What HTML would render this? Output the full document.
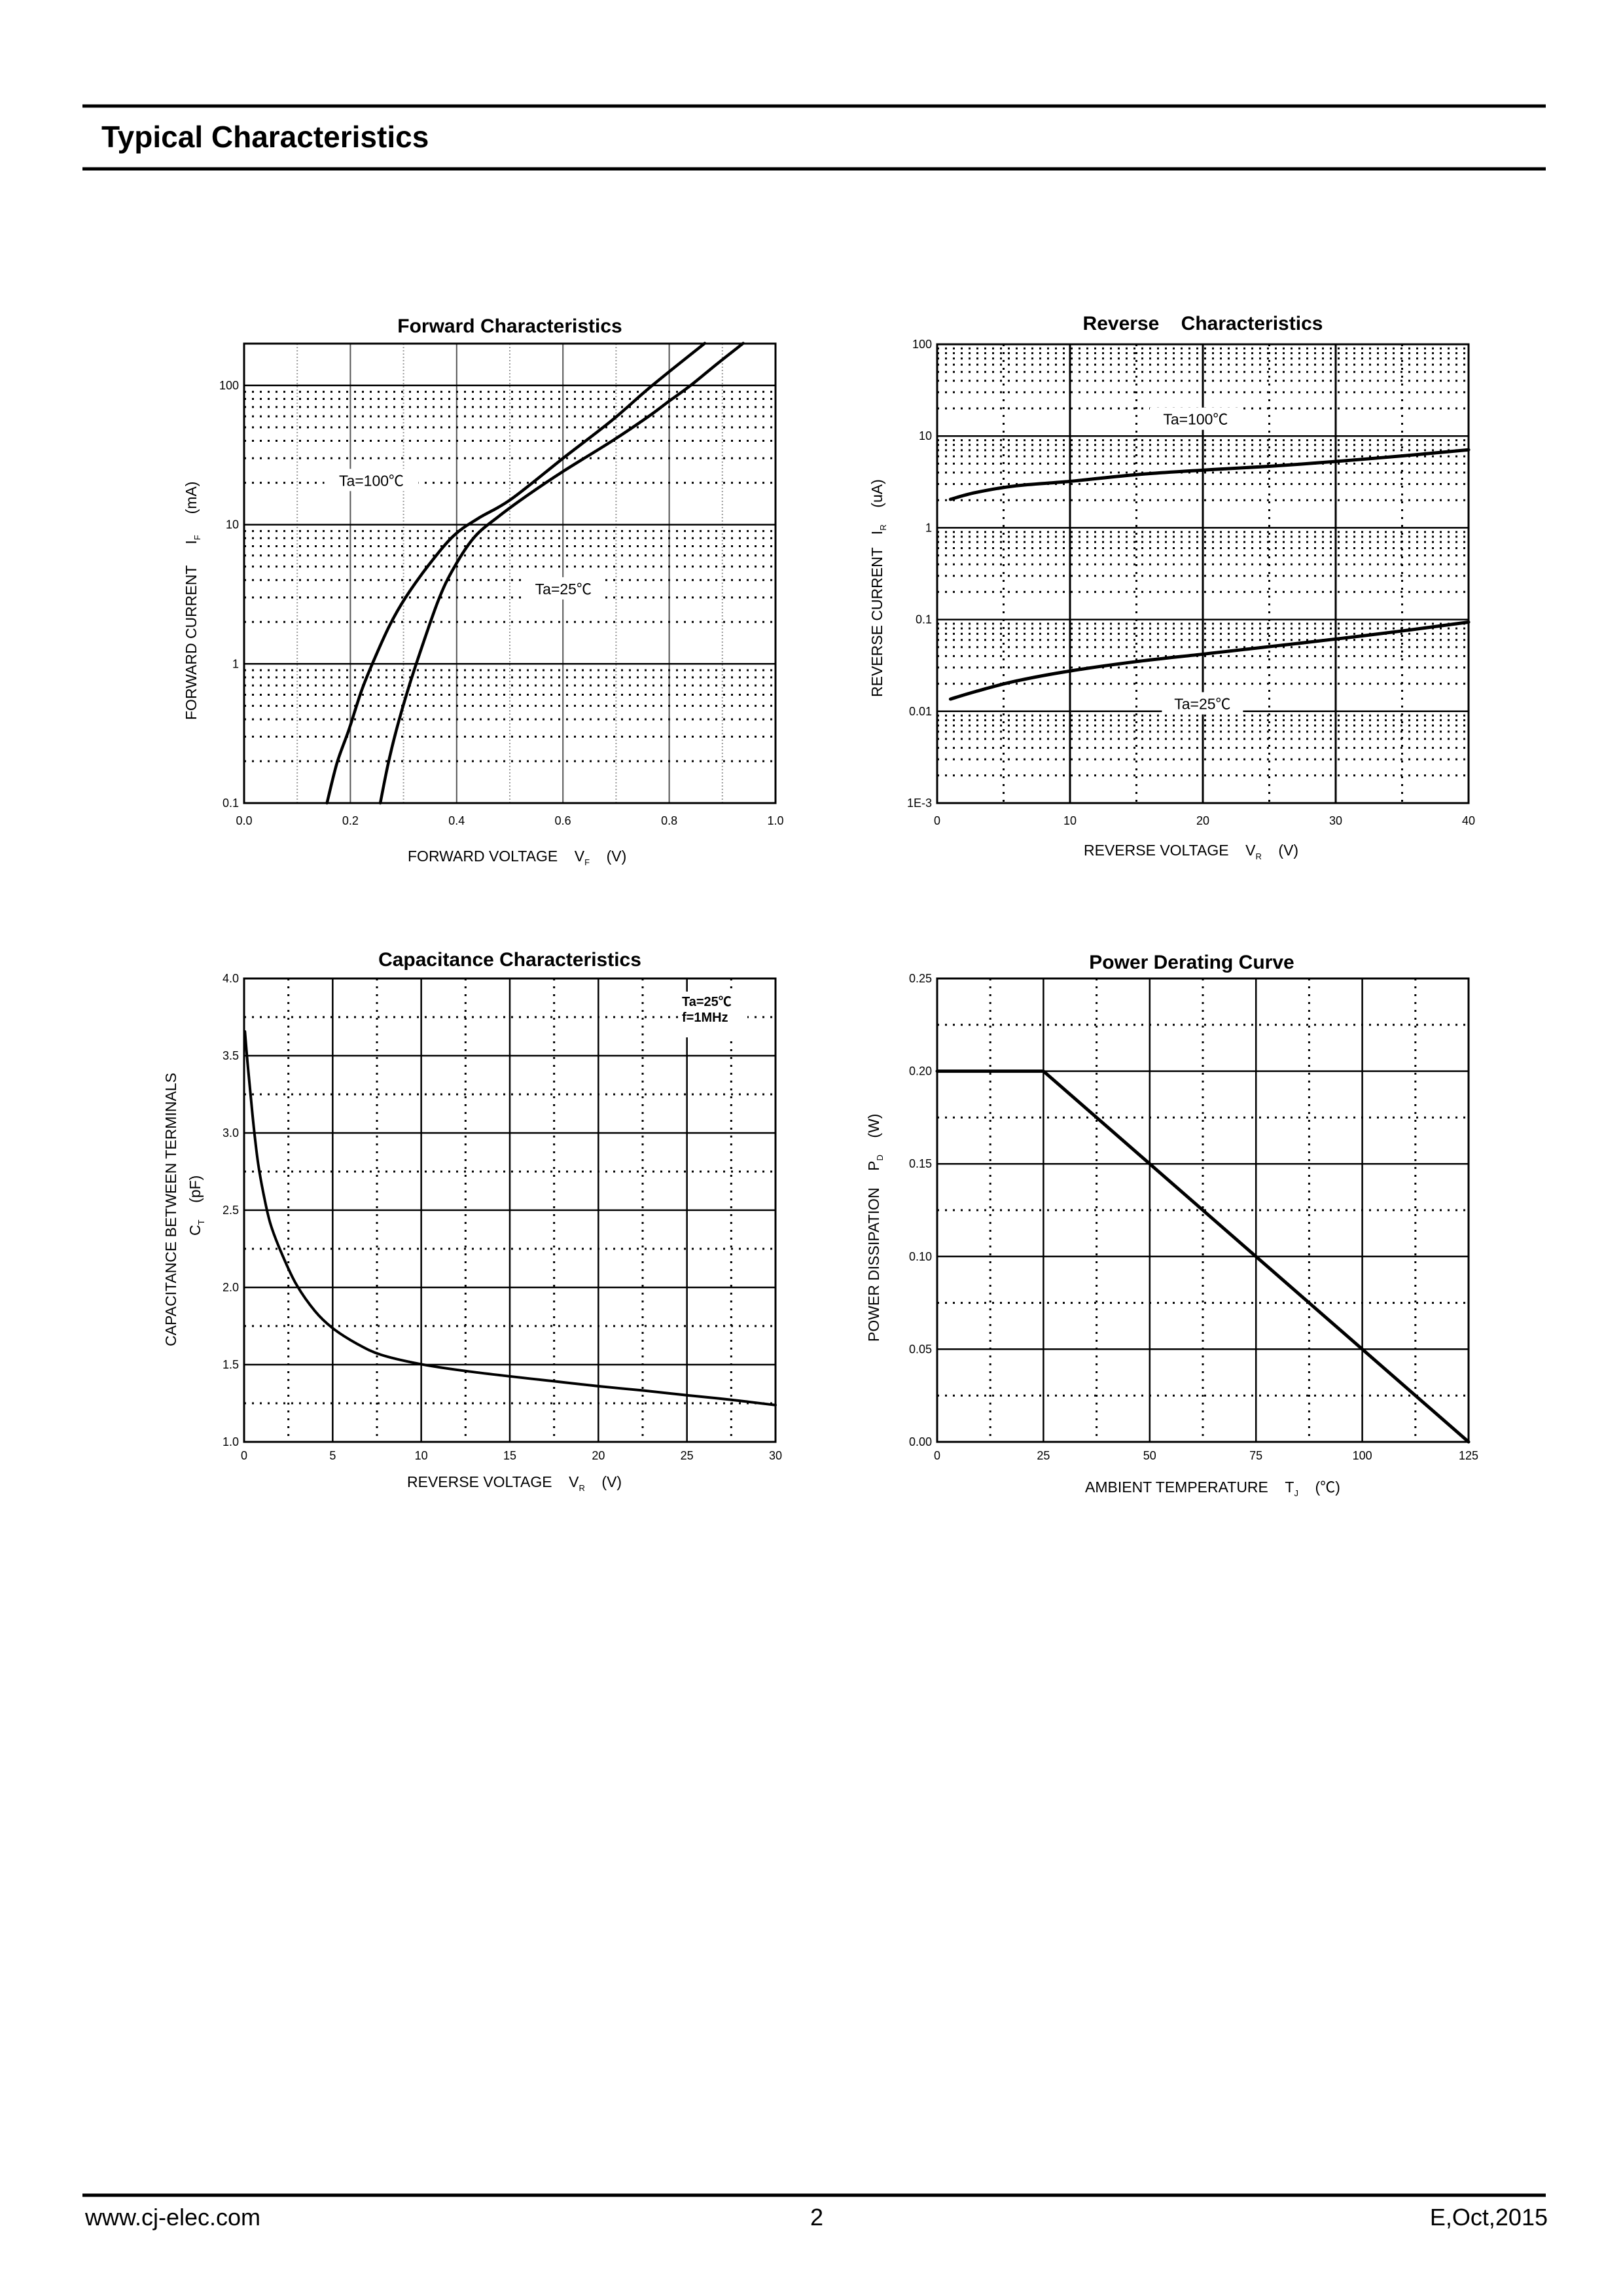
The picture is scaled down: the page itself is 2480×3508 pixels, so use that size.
<!DOCTYPE html>
<html><head><meta charset="utf-8">
<style>
html,body{margin:0;padding:0;background:#fff;}
svg{display:block;}
text{font-family:"Liberation Sans","Noto Sans CJK SC",sans-serif;fill:#000;}
</style></head>
<body>
<svg id="s" xmlns="http://www.w3.org/2000/svg" width="2480" height="3508" viewBox="0 0 2480 3508">
<rect width="2480" height="3508" fill="#fff"/>
<line x1="126" y1="162" x2="2362" y2="162" stroke="#000" stroke-width="5"/>
<line x1="126" y1="258" x2="2362" y2="258" stroke="#000" stroke-width="5"/>
<text x="155" y="225" font-size="46" font-weight="bold">Typical Characteristics</text>
<line x1="126" y1="3354" x2="2362" y2="3354" stroke="#000" stroke-width="5"/>
<text x="130" y="3400" font-size="36">www.cj-elec.com</text>
<text x="1248" y="3400" font-size="36" text-anchor="middle">2</text>
<text x="2365" y="3400" font-size="36" text-anchor="end">E,Oct,2015</text>
<g id="g"></g>
</svg>
<script>
var out=[];
function L(x1,y1,x2,y2,a){out.push('<line x1="'+x1+'" y1="'+y1+'" x2="'+x2+'" y2="'+y2+'" '+a+'/>');}
function T(x,y,s,a){out.push('<text x="'+x+'" y="'+y+'" '+(a||'')+'>'+s+'</text>');}
var SOL='stroke="#000" stroke-width="2.5"', DOT='stroke="#000" stroke-width="3" stroke-dasharray="3 9"', LDOT='stroke="#999" stroke-width="2" stroke-dasharray="2 3"';
function path(pts,w){var d='M'+pts.map(function(p){return p[0].toFixed(1)+','+p[1].toFixed(1)}).join(' L');out.push('<path d="'+d+'" fill="none" stroke="#000" stroke-width="'+w+'" stroke-linejoin="round" stroke-linecap="round"/>');}
function smooth(pts,w){
 var d='M'+pts[0][0]+','+pts[0][1];
 for(var i=0;i<pts.length-1;i++){var p0=pts[i-1]||pts[i],p1=pts[i],p2=pts[i+1],p3=pts[i+2]||p2;
  var c1=[p1[0]+(p2[0]-p0[0])/6,p1[1]+(p2[1]-p0[1])/6],c2=[p2[0]-(p3[0]-p1[0])/6,p2[1]-(p3[1]-p1[1])/6];
  d+=' C'+c1[0].toFixed(1)+','+c1[1].toFixed(1)+' '+c2[0].toFixed(1)+','+c2[1].toFixed(1)+' '+p2[0].toFixed(1)+','+p2[1].toFixed(1);}
 out.push('<path d="'+d+'" fill="none" stroke="#000" stroke-width="'+w+'" stroke-linecap="round"/>');}
var TK='font-size="18"', AX='font-size="23"';

/* ---------- Forward ---------- */
(function(){
 var x0=373,x1=1185,yb=1227,dec=212.7,yt=525;
 T(779,508,'Forward Characteristics','font-size="30" font-weight="bold" text-anchor="middle"');
 for(var i=1;i<10;i++){var x=x0+i*(x1-x0)/10; L(x,yt,x,yb,(i%2==0)?'stroke="#555" stroke-width="2"':LDOT);}
 for(var d=0;d<3;d++){var base=yb-d*dec;
  for(var k=2;k<10;k++){var y=base-Math.log10(k)*dec;L(x0,y,x1,y,DOT);}
  if(d>0)L(x0,base,x1,base,SOL);}
 L(x0,yb-3*dec,x1,yb-3*dec,SOL);
 out.push('<rect x="'+x0+'" y="'+yt+'" width="'+(x1-x0)+'" height="'+(yb-yt)+'" fill="none" stroke="#000" stroke-width="3"/>');
 var labs=['0.1','1','10','100'];
 for(var d=0;d<4;d++)T(x0-8,yb-d*dec+6,labs[d],TK+' text-anchor="end"');
 for(var i=0;i<=5;i++)T(x0+i*(x1-x0)/5,1260,(i*0.2).toFixed(1),TK+' text-anchor="middle"');
 T(623,1316,'FORWARD VOLTAGE&#160;&#160;&#160;&#160;V<tspan font-size="13" dy="6">F</tspan><tspan dy="-6">&#160;&#160;&#160;&#160;(V)</tspan>',AX);
 T(0,0,'FORWARD CURRENT&#160;&#160;&#160;&#160;&#160;I<tspan font-size="13" dy="6">F</tspan><tspan dy="-6">&#160;&#160;&#160;&#160;&#160;(mA)</tspan>',AX+' transform="translate(300,1100) rotate(-90)"');
 function m(p){return [x0+(p[0]-200)/1315*(x1-x0), yb-(1337-p[1])/370*dec];}
 var a=[[405,1337],[430,1230],[460,1140],[490,1040],[520,960],[560,865],[600,790],[660,700],[720,625],[780,580],[860,530],[990,420],[1110,320],[1210,227],[1340,115]].map(m);
 var b=[[537,1337],[555,1240],[575,1150],[600,1055],[625,970],[680,800],[720,710],[770,630],[830,575],[900,520],[990,455],[1110,375],[1200,310],[1250,270],[1305,227],[1370,170],[1435,115]].map(m);
 var l1=m([515,480]),l2=m([990,768]);
 out.push('<rect x="'+(l1[0]-72)+'" y="'+(l1[1]-18)+'" width="144" height="34" fill="#fff"/>');
 out.push('<rect x="'+(l2[0]-62)+'" y="'+(l2[1]-18)+'" width="124" height="34" fill="#fff"/>');
 T(l1[0],l1[1]+8,'Ta=100℃',AX+' text-anchor="middle"');
 T(l2[0],l2[1]+8,'Ta=25℃',AX+' text-anchor="middle"');
 smooth(a,4.5);smooth(b,4.5);
})();

/* ---------- Reverse ---------- */
(function(){
 var x0=1432,x1=2244,yb=1227,yt=526,dec=(yb-yt)/5;
 T(1838,504,'Reverse&#160;&#160;&#160;&#160;Characteristics','font-size="30" font-weight="bold" text-anchor="middle"');
 for(var d=0;d<5;d++){var base=yb-d*dec;
  for(var k=2;k<10;k++){var y=base-Math.log10(k)*dec;L(x0,y,x1,y,DOT);}
  if(d>0)L(x0,base,x1,base,SOL);}
 for(var i=1;i<8;i++){var x=x0+i*(x1-x0)/8; L(x,yt,x,yb,(i%2==0)?'stroke="#000" stroke-width="3"':DOT);}
 out.push('<rect x="'+x0+'" y="'+yt+'" width="'+(x1-x0)+'" height="'+(yb-yt)+'" fill="none" stroke="#000" stroke-width="3"/>');
 var labs=['1E-3','0.01','0.1','1','10','100'];
 for(var d=0;d<6;d++)T(x0-8,yb-d*dec+6,labs[d],TK+' text-anchor="end"');
 for(var i=0;i<=4;i++)T(x0+i*(x1-x0)/4,1260,String(i*10),TK+' text-anchor="middle"');
 T(1656,1307,'REVERSE VOLTAGE&#160;&#160;&#160;&#160;V<tspan font-size="13" dy="6">R</tspan><tspan dy="-6">&#160;&#160;&#160;&#160;(V)</tspan>',AX);
 T(0,0,'REVERSE CURRENT&#160;&#160;&#160;I<tspan font-size="13" dy="6">R</tspan><tspan dy="-6">&#160;&#160;&#160;&#160;(uA)</tspan>',AX+' transform="translate(1348,1065) rotate(-90)"');
 function m(p){return [x0+(p[0]-205)/1316*(x1-x0), yt+(p[1]-115)/1222*(yb-yt)];}
 var a=[[238,528],[300,510],[400,492],[535,480],[700,462],[865,450],[1030,440],[1193,427],[1360,412],[1521,396]].map(m);
 var b=[[238,1060],[300,1040],[400,1012],[535,985],[700,960],[865,940],[1030,920],[1193,900],[1360,878],[1521,855]].map(m);
 var l1=m([845,315]),l2=m([862,1073]);
 out.push('<rect x="'+(l1[0]-70)+'" y="'+(l1[1]-18)+'" width="140" height="34" fill="#fff"/>');
 out.push('<rect x="'+(l2[0]-62)+'" y="'+(l2[1]-18)+'" width="124" height="34" fill="#fff"/>');
 T(l1[0],l1[1]+8,'Ta=100℃',AX+' text-anchor="middle"');
 T(l2[0],l2[1]+8,'Ta=25℃',AX+' text-anchor="middle"');
 smooth(a,5);smooth(b,5);
})();

/* ---------- Capacitance ---------- */
(function(){
 var x0=373,x1=1185,yb=2203,yt=1495;
 T(779,1476,'Capacitance Characteristics','font-size="30" font-weight="bold" text-anchor="middle"');
 for(var i=1;i<12;i++){var x=x0+i*(x1-x0)/12; L(x,yt,x,yb,(i%2==0)?SOL:DOT);}
 for(var j=1;j<12;j++){var y=yb-j*(yb-yt)/12; L(x0,y,x1,y,(j%2==0)?SOL:DOT);}
 out.push('<rect x="'+x0+'" y="'+yt+'" width="'+(x1-x0)+'" height="'+(yb-yt)+'" fill="none" stroke="#000" stroke-width="3"/>');
 for(var j=0;j<=6;j++)T(x0-8,yb-j*(yb-yt)/6+6,(1+j*0.5).toFixed(1),TK+' text-anchor="end"');
 for(var i=0;i<=6;i++)T(x0+i*(x1-x0)/6,2230,String(i*5),TK+' text-anchor="middle"');
 T(622,2272,'REVERSE VOLTAGE&#160;&#160;&#160;&#160;V<tspan font-size="13" dy="6">R</tspan><tspan dy="-6">&#160;&#160;&#160;&#160;(V)</tspan>',AX);
 T(0,0,'CAPACITANCE BETWEEN TERMINALS',AX+' text-anchor="middle" transform="translate(269,1848) rotate(-90)"');
 T(0,0,'C<tspan font-size="13" dy="6">T</tspan><tspan dy="-6">&#160;&#160;&#160;&#160;(pF)</tspan>',AX+' transform="translate(306,1888) rotate(-90)"');
 function m(p){return [x0+(p[0]-228)/1289*(x1-x0), yt+(p[1]-122)/1223*(yb-yt)];}
 var r=m([1290,0]);
 out.push('<rect x="'+(r[0]-4)+'" y="'+(yt+20)+'" width="104" height="70" fill="#fff"/>');
 T(r[0],yt+42,'Ta=25℃','font-size="20" font-weight="bold"');
 T(r[0],yt+66,'f=1MHz','font-size="20" font-weight="bold"');
 var a=[[230,262],[236,340],[243,420],[252,520],[262,610],[275,690],[292,770],[320,850],[355,930],[400,1000],[443,1045],[500,1085],[560,1115],[657,1140],[765,1158],[872,1172],[980,1185],[1087,1198],[1200,1210],[1302,1222],[1410,1234],[1517,1248]].map(m);
 smooth(a,4);
})();

/* ---------- Power ---------- */
(function(){
 var x0=1432,x1=2244,yb=2203,yt=1495;
 T(1821,1480,'Power Derating Curve','font-size="30" font-weight="bold" text-anchor="middle"');
 for(var i=1;i<10;i++){var x=x0+i*(x1-x0)/10; L(x,yt,x,yb,(i%2==0)?SOL:DOT);}
 for(var j=1;j<10;j++){var y=yb-j*(yb-yt)/10; L(x0,y,x1,y,(j%2==0)?SOL:DOT);}
 out.push('<rect x="'+x0+'" y="'+yt+'" width="'+(x1-x0)+'" height="'+(yb-yt)+'" fill="none" stroke="#000" stroke-width="3"/>');
 for(var j=0;j<=5;j++)T(x0-8,yb-j*(yb-yt)/5+6,(j*0.05).toFixed(2),TK+' text-anchor="end"');
 for(var i=0;i<=5;i++)T(x0+i*(x1-x0)/5,2230,String(i*25),TK+' text-anchor="middle"');
 T(1658,2280,'AMBIENT TEMPERATURE&#160;&#160;&#160;&#160;T<tspan font-size="13" dy="6">J</tspan><tspan dy="-6">&#160;&#160;&#160;&#160;(℃)</tspan>',AX);
 T(0,0,'POWER DISSIPATION&#160;&#160;&#160;&#160;P<tspan font-size="13" dy="6">D</tspan><tspan dy="-6">&#160;&#160;&#160;&#160;(W)</tspan>',AX+' transform="translate(1343,2050) rotate(-90)"');
 var y20=yb-0.8*(yb-yt);
 path([[x0,y20],[x0+(x1-x0)/5,y20],[x1,yb]],5);
})();
document.getElementById('g').innerHTML=out.join('');
</script>
</body></html>
